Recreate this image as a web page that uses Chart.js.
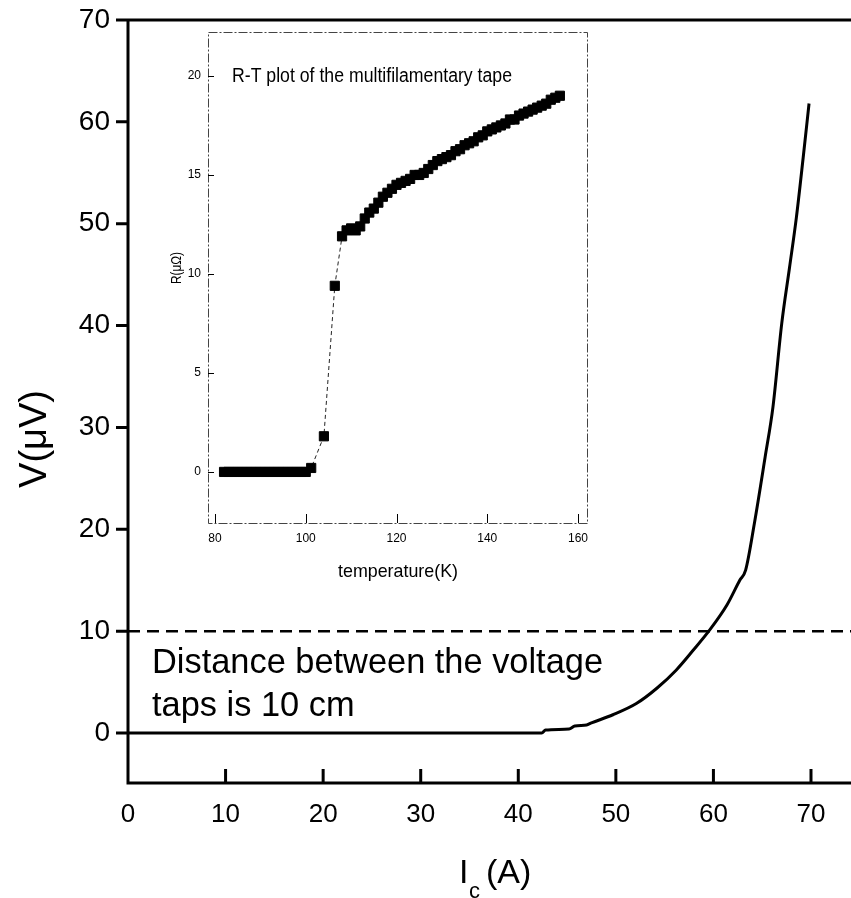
<!DOCTYPE html>
<html>
<head>
<meta charset="utf-8">
<script src="https://cdn.jsdelivr.net/npm/chart.js@4.4.0/dist/chart.umd.min.js"></script>
<style>
  html, body { margin: 0; padding: 0; background: #fff; }
  #wrap { position: relative; width: 851px; height: 898px; }
  #mainChart { position: absolute; left: 0; top: 0; width: 851px; height: 898px; }
  #insetChart { position: absolute; left: 150px; top: 20px; width: 450px; height: 575px; }
</style>
</head>
<body>
<div id="wrap">
  <canvas id="mainChart" width="851" height="898"></canvas>
  <canvas id="insetChart" width="450" height="575"></canvas>
</div>
<script>
// V-I curve of the tape (current in A, voltage in microvolts)
const currentA = [0, 5, 10, 15, 20, 25, 30, 35, 40, 42.4, 42.8, 45.2, 45.8, 47.0, 47.5,
  49.7, 52.1, 54.2, 56.2, 57.9, 59.6, 61.4, 62.7, 63.3, 64.2, 65.3, 66.1, 67.0, 67.8, 68.5, 69.2, 69.8];
const voltageUV = [0, 0, 0, 0, 0, 0, 0, 0, 0, 0, 0.3, 0.4, 0.7, 0.8, 1.0,
  1.8, 2.9, 4.4, 6.2, 8.1, 10.1, 12.6, 15.0, 16.0, 20.6, 27.1, 32.0, 40.2, 45.7, 50.6, 56.5, 61.8];
const criterionUV = 10;
const currentRange = [0, 74.1];
const voltageRange = [-4.9, 70];
const currentTicks = [0, 10, 20, 30, 40, 50, 60, 70];
const voltageTicks = [0, 10, 20, 30, 40, 50, 60, 70];

// R-T data of the multifilamentary tape (K, micro-ohm)
const tempK = [82, 83, 84, 85, 86, 87, 88, 89, 90, 91, 92, 93, 94, 95, 96, 97, 98, 99, 100,
  101.2, 104, 106.4, 108, 109, 110, 111, 112, 113, 114, 115, 116, 117, 118, 119, 120,
  121, 122, 123, 124, 125, 126, 127, 128, 129, 130, 131, 132, 133, 134, 135, 136, 137,
  138, 139, 140, 141, 142, 143, 144, 145, 146, 147, 148, 149, 150, 151, 152, 153, 154, 155, 156];
const resistanceUOhm = [0, 0, 0, 0, 0, 0, 0, 0, 0, 0, 0, 0, 0, 0, 0, 0, 0, 0, 0,
  0.2, 1.8, 9.4, 11.9, 12.2, 12.3, 12.2, 12.4, 12.8, 13.1, 13.3, 13.6, 13.9, 14.1, 14.3, 14.5,
  14.6, 14.7, 14.8, 15.0, 15.0, 15.1, 15.3, 15.5, 15.7, 15.8, 15.9, 16.0, 16.2, 16.3, 16.5, 16.6, 16.7,
  16.9, 17.0, 17.2, 17.3, 17.4, 17.5, 17.6, 17.8, 17.8, 18.0, 18.1, 18.2, 18.3, 18.4, 18.5, 18.6, 18.8, 18.9, 19.0];
const tempRange = [78.46, 161.98];
const resistanceRange = [-2.58, 22.22];
const tempTicks = [80, 100, 120, 140, 160];
const resistanceTicks = [0, 5, 10, 15, 20];

const FONT = "'Liberation Sans', Arial, Helvetica, sans-serif";

// draw text squeezed horizontally to a given width, returns the x scale used
function squeezeText(ctx, text, x, y, font, width, factor) {
  ctx.font = font;
  const f = factor || width / ctx.measureText(text).width;
  ctx.save();
  ctx.translate(x, y);
  ctx.scale(f, 1);
  ctx.fillText(text, 0, 0);
  ctx.restore();
  return f;
}

// fixed axis boxes, no extra room for overhanging labels
const fixX = h => s => { s.height = h; s.paddingLeft = 0; s.paddingRight = 0; };
const fixY = w => s => { s.width = w; s.paddingTop = 0; s.paddingBottom = 0; };

const mainAxes = {
  id: 'mainAxes',
  afterDraw(chart) {
    const { ctx, chartArea: a, scales: { x, y } } = chart;
    ctx.save();
    ctx.strokeStyle = '#000';
    ctx.lineWidth = 3;
    ctx.beginPath();
    ctx.moveTo(a.left, a.top);
    ctx.lineTo(a.left, a.bottom);
    ctx.lineTo(a.right, a.bottom);
    ctx.moveTo(a.left, a.top);
    ctx.lineTo(a.right, a.top);
    voltageTicks.forEach(v => {
      const py = y.getPixelForValue(v);
      ctx.moveTo(a.left - 12, py);
      ctx.lineTo(a.left, py);
    });
    currentTicks.forEach(v => {
      const px = x.getPixelForValue(v);
      ctx.moveTo(px, a.bottom);
      ctx.lineTo(px, a.bottom - 14);
    });
    ctx.stroke();

    ctx.fillStyle = '#000';
    ctx.textAlign = 'left';
    ctx.textBaseline = 'alphabetic';

    // note about the voltage taps
    const f = squeezeText(ctx, 'Distance between the voltage', 152, 673, '35px ' + FONT, 451);
    squeezeText(ctx, 'taps is 10 cm', 152, 716, '35px ' + FONT, 0, f);

    // x title: I_c(A)
    ctx.font = '34px ' + FONT;
    ctx.fillText('I', 459, 883);
    ctx.font = '22px ' + FONT;
    ctx.fillText('c', 469, 898);
    ctx.font = '34px ' + FONT;
    ctx.fillText('(A)', 486, 883);

    // y title
    ctx.save();
    ctx.translate(46, 439);
    ctx.rotate(-Math.PI / 2);
    ctx.textAlign = 'center';
    ctx.font = '38px ' + FONT;
    ctx.fillText('V(\u03BCV)', 0, 0);
    ctx.restore();
    ctx.restore();
  }
};

new Chart(document.getElementById('mainChart'), {
  type: 'scatter',
  data: {
    datasets: [
      {
        data: currentA.map((c, i) => ({ x: c, y: voltageUV[i] })),
        showLine: true,
        borderColor: '#000',
        borderWidth: 3,
        pointRadius: 0,
        cubicInterpolationMode: 'monotone'
      },
      {
        data: currentRange.map(c => ({ x: c, y: criterionUV })),
        showLine: true,
        borderColor: '#000',
        borderWidth: 2.5,
        borderDash: [12, 7],
        pointRadius: 0
      }
    ]
  },
  options: {
    responsive: false,
    animation: false,
    devicePixelRatio: 1,
    layout: { padding: { top: 20, right: 0, left: 0, bottom: 0 } },
    plugins: { legend: { display: false }, tooltip: { enabled: false } },
    scales: {
      x: {
        type: 'linear',
        min: currentRange[0],
        max: currentRange[1],
        afterFit: fixX(115),
        afterBuildTicks: s => { s.ticks = currentTicks.map(v => ({ value: v })); },
        grid: { display: false, drawTicks: false },
        border: { display: false },
        ticks: { color: '#000', font: { family: FONT, size: 26 }, padding: 16, maxRotation: 0, autoSkip: false }
      },
      y: {
        type: 'linear',
        min: voltageRange[0],
        max: voltageRange[1],
        afterFit: fixY(128),
        afterBuildTicks: s => { s.ticks = voltageTicks.map(v => ({ value: v })); },
        grid: { display: false, drawTicks: false },
        border: { display: false },
        ticks: { color: '#000', font: { family: FONT, size: 28 }, padding: 18, autoSkip: false }
      }
    }
  },
  plugins: [mainAxes]
});

const insetAxes = {
  id: 'insetAxes',
  afterDraw(chart) {
    const { ctx, chartArea: a, scales: { x, y } } = chart;
    ctx.save();
    ctx.strokeStyle = '#444';
    ctx.lineWidth = 1;
    ctx.setLineDash([9, 2, 2, 2]);
    ctx.strokeRect(a.left + 0.5, a.top + 0.5, a.right - a.left, a.bottom - a.top);
    ctx.setLineDash([]);
    ctx.strokeStyle = '#000';
    ctx.beginPath();
    tempTicks.forEach(v => {
      const px = Math.round(x.getPixelForValue(v)) + 0.5;
      ctx.moveTo(px, a.bottom);
      ctx.lineTo(px, a.bottom - 9);
    });
    resistanceTicks.forEach(v => {
      const py = Math.round(y.getPixelForValue(v)) + 0.5;
      ctx.moveTo(a.left, py);
      ctx.lineTo(a.left + 6, py);
    });
    ctx.stroke();

    ctx.fillStyle = '#000';
    ctx.textAlign = 'left';
    ctx.textBaseline = 'alphabetic';
    squeezeText(ctx, 'R-T plot of the multifilamentary tape', 82, 62, '20px ' + FONT, 280);
    squeezeText(ctx, 'temperature(K)', 188, 557, '19px ' + FONT, 120);

    ctx.save();
    ctx.translate(31, 248);
    ctx.rotate(-Math.PI / 2);
    squeezeText(ctx, 'R(\u03BC\u03A9)', -16, 0, '15px ' + FONT, 32);
    ctx.restore();
    ctx.restore();
  }
};

new Chart(document.getElementById('insetChart'), {
  type: 'scatter',
  data: {
    datasets: [{
      data: tempK.map((t, i) => ({ x: t, y: resistanceUOhm[i] })),
      showLine: true,
      borderColor: '#222',
      borderWidth: 1,
      borderDash: [4, 3],
      pointStyle: 'rect',
      pointRadius: 6.5,
      pointBackgroundColor: '#000',
      pointBorderColor: '#000',
      pointBorderWidth: 1
    }]
  },
  options: {
    responsive: false,
    animation: false,
    devicePixelRatio: 1,
    layout: { padding: { top: 12, right: 13, left: 0, bottom: 0 } },
    plugins: { legend: { display: false }, tooltip: { enabled: false } },
    scales: {
      x: {
        type: 'linear',
        min: tempRange[0],
        max: tempRange[1],
        afterFit: fixX(72),
        afterBuildTicks: s => { s.ticks = tempTicks.map(v => ({ value: v })); },
        grid: { display: false, drawTicks: false },
        border: { display: false },
        ticks: { color: '#000', font: { family: FONT, size: 12 }, padding: 8, maxRotation: 0, autoSkip: false }
      },
      y: {
        type: 'linear',
        min: resistanceRange[0],
        max: resistanceRange[1],
        afterFit: fixY(58),
        afterBuildTicks: s => { s.ticks = resistanceTicks.map(v => ({ value: v })); },
        grid: { display: false, drawTicks: false },
        border: { display: false },
        ticks: { color: '#000', font: { family: FONT, size: 12 }, padding: 7, autoSkip: false }
      }
    }
  },
  plugins: [insetAxes]
});
</script>
</body>
</html>
